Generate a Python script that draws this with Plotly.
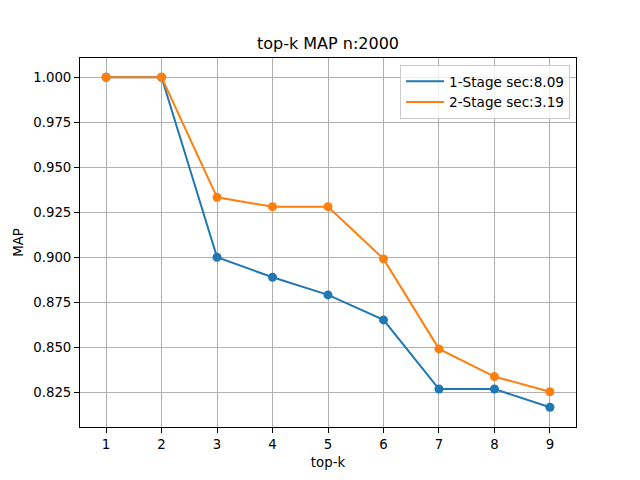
import plotly.graph_objects as go

top_k = [1, 2, 3, 4, 5, 6, 7, 8, 9]
map_1stage = [1.0, 1.0, 0.9, 0.8889, 0.8791, 0.8652, 0.8268, 0.8268, 0.8167]
map_2stage = [1.0, 1.0, 0.9333, 0.9281, 0.9281, 0.8991, 0.8491, 0.8337, 0.8253]
name_1 = "1-Stage sec:8.09"
name_2 = "2-Stage sec:3.19"
y_ticks = [0.825, 0.85, 0.875, 0.9, 0.925, 0.95, 0.975, 1.0]
y_ticktext = ["0.825", "0.850", "0.875", "0.900", "0.925", "0.950", "0.975", "1.000"]

blue = "#1f77b4"
orange = "#ff7f0e"
font = "DejaVu Sans"

fig = go.Figure()
for vals, name, col in [(map_1stage, name_1, blue), (map_2stage, name_2, orange)]:
    fig.add_trace(go.Scatter(x=top_k, y=vals, mode="lines", name=name,
                             line=dict(color=col, width=2), showlegend=True))
    fig.add_trace(go.Scatter(x=top_k, y=vals, mode="markers", name=name,
                             marker=dict(color=col, size=9, line=dict(width=0)),
                             showlegend=False, hoverinfo="skip"))

axis_common = dict(showline=True, linecolor="black", linewidth=1, mirror=True,
                   ticks="outside", ticklen=5, tickwidth=1, tickcolor="black",
                   showgrid=True, gridcolor="#b0b0b0", gridwidth=1, zeroline=False,
                   tickfont=dict(family=font, size=13.3, color="black"))

fig.update_layout(
    width=640, height=480,
    margin=dict(l=80, r=64, t=58, b=53),
    paper_bgcolor="white", plot_bgcolor="white",
    font=dict(family=font, size=13.3, color="black"),
    title=dict(text="top-k MAP n:2000", x=0.5, xanchor="center", xref="paper",
               y=1 - 43 / 480, yref="container", yanchor="middle",
               font=dict(family=font, size=16, color="black")),
    xaxis=dict(range=[0.53, 9.47], tickvals=top_k,
               title=dict(text="top-k", standoff=6, font=dict(family=font, size=13.3)),
               **axis_common),
    yaxis=dict(range=[0.8057, 1.0107], tickvals=y_ticks, ticktext=y_ticktext,
               title=dict(text="MAP", standoff=6, font=dict(family=font, size=13.3)),
               **axis_common),
    legend=dict(x=0.988, y=0.981, xanchor="right", yanchor="top",
                bgcolor="rgba(255,255,255,0.8)", bordercolor="#cccccc", borderwidth=1,
                font=dict(family=font, size=13.6, color="black"),
                tracegroupgap=0, itemwidth=38),
)

fig.write_html("out.html")
